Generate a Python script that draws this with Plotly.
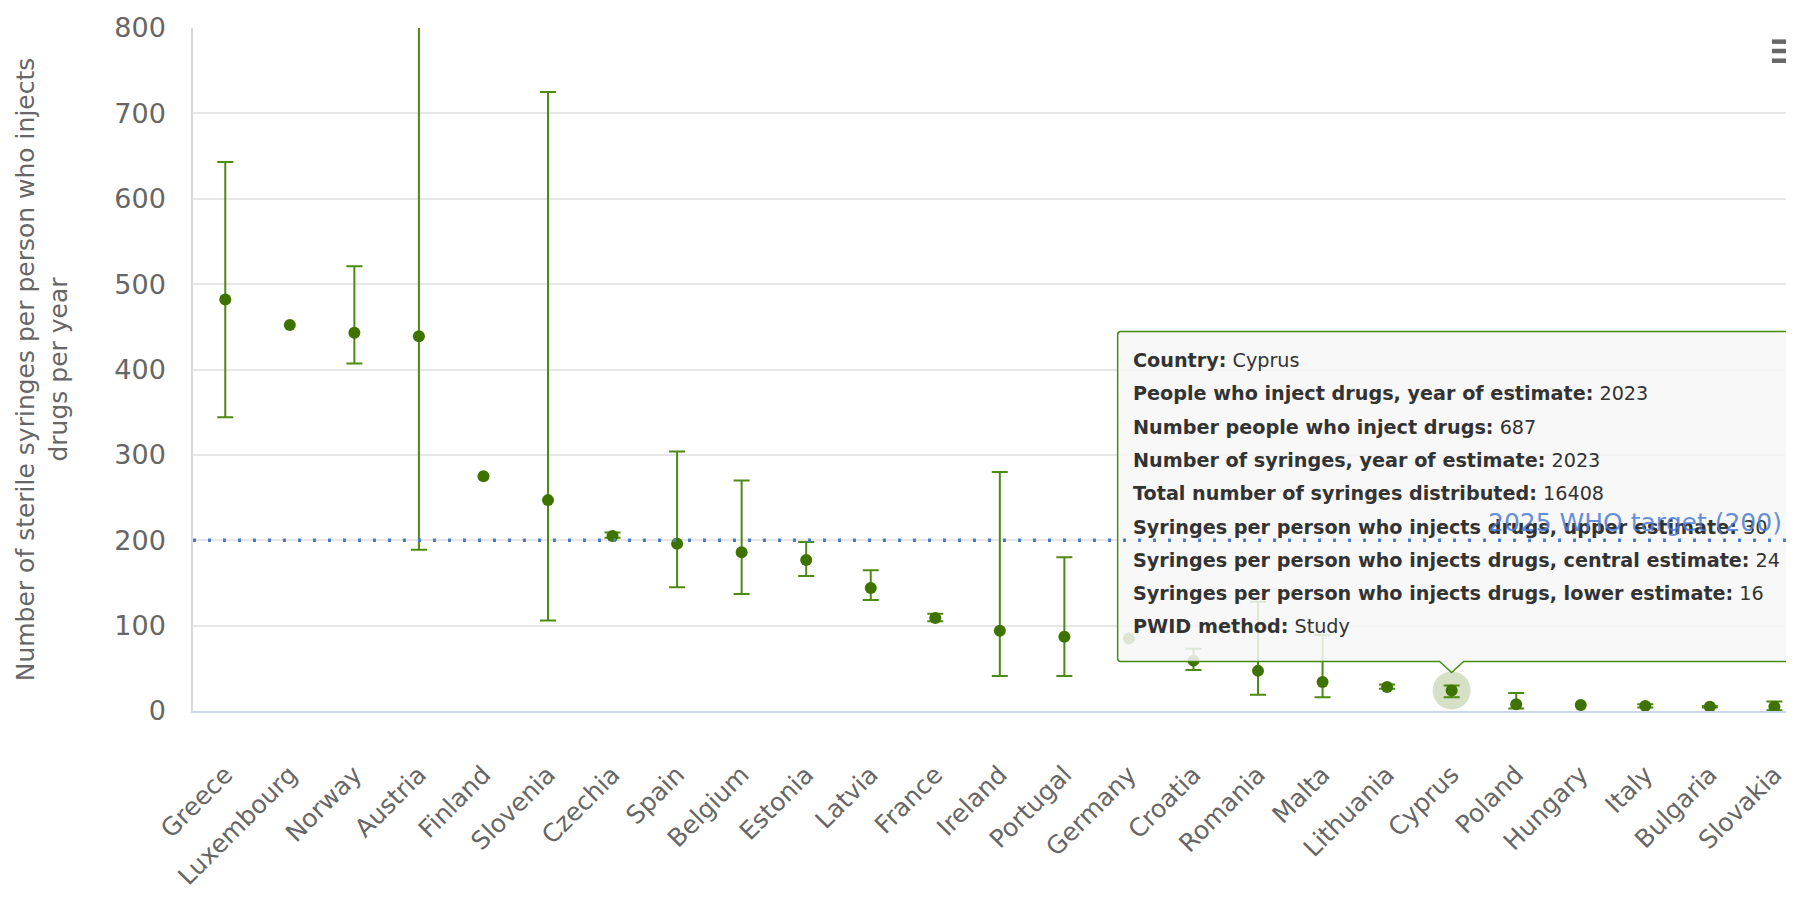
import plotly.graph_objects as go

countries = ["Greece", "Luxembourg", "Norway", "Austria", "Finland", "Slovenia", "Czechia",
             "Spain", "Belgium", "Estonia", "Latvia", "France", "Ireland", "Portugal",
             "Germany", "Croatia", "Romania", "Malta", "Lithuania", "Cyprus", "Poland",
             "Hungary", "Italy", "Bulgaria", "Slovakia"]
central = [482, 452, 443, 439, 275, 247, 205, 196, 186, 177, 144, 109, 94, 87,
           85, 59, 47, 34, 28, 24, 8, 7, 6, 5, 5]
upper = [643, None, 521, 900, None, 725, 209, 304, 270, 198, 165, 114, 280, 180,
         None, 73, 128, 89, 31, 30, 21, None, 8, 6, 11]
lower = [344, None, 407, 189, None, 106, 203, 145, 137, 158, 130, 105, 41, 41,
         None, 48, 19, 16, 26, 16, 3, None, 4, 4, 1]
who_target = 200
who_label = "2025 WHO target (200)"
hovered = "Cyprus"
tooltip_lines = [
    "<b>Country:</b> Cyprus",
    "<b>People who inject drugs, year of estimate:</b> 2023",
    "<b>Number people who inject drugs:</b> 687",
    "<b>Number of syringes, year of estimate:</b> 2023",
    "<b>Total number of syringes distributed:</b> 16408",
    "<b>Syringes per person who injects drugs, upper estimate:</b> 30",
    "<b>Syringes per person who injects drugs, central estimate:</b> 24",
    "<b>Syringes per person who injects drugs, lower estimate:</b> 16",
    "<b>PWID method:</b> Study",
]
y_title = "Number of sterile syringes per person who injects<br>drugs per year"

FONT = "DejaVu Sans"
PT = "#3f7300"
BAR = "#4d8a12"

fig = go.Figure()

hi = countries.index(hovered)
fig.add_trace(go.Scatter(x=[hovered], y=[central[hi]], mode="markers",
                         marker=dict(size=38, color="rgba(63,115,0,0.22)"),
                         hoverinfo="skip", showlegend=False))

with_bars = [i for i in range(len(countries)) if upper[i] is not None]
no_bars = [i for i in range(len(countries)) if upper[i] is None]

fig.add_trace(go.Scatter(
    x=[countries[i] for i in with_bars],
    y=[central[i] for i in with_bars],
    mode="markers",
    marker=dict(size=12, color=PT),
    error_y=dict(type="data", symmetric=False,
                 array=[upper[i] - central[i] for i in with_bars],
                 arrayminus=[central[i] - lower[i] for i in with_bars],
                 color=BAR, thickness=2, width=8),
    showlegend=False))
fig.add_trace(go.Scatter(
    x=[countries[i] for i in no_bars],
    y=[central[i] for i in no_bars],
    mode="markers", marker=dict(size=12, color=PT), showlegend=False))

# tooltip callout (pixel offsets around the hovered point)
L, R, T, B, tip, hw = -334, 339, 359, 29, 18, 12
path = (f"M{L+3},{T} L{R-3},{T} Q{R},{T} {R},{T-3} L{R},{B+3} Q{R},{B} {R-3},{B} "
        f"L{hw},{B} L0,{tip} L{-hw},{B} L{L+3},{B} Q{L},{B} {L},{B+3} L{L},{T-3} Q{L},{T} {L+3},{T} Z")
shapes = [dict(type="path", xref="x", yref="y", xsizemode="pixel", ysizemode="pixel",
               xanchor=hovered, yanchor=central[hi], path=path,
               fillcolor="rgba(247,247,247,0.86)", line=dict(color="#4a8a10", width=1.5),
               layer="above"),
          dict(type="line", xref="paper", x0=0, x1=1, yref="y", y0=who_target, y1=who_target,
               line=dict(color="#4a7bd4", width=3.5, dash="3px,12px"), layer="above")]
for yp in [0.98, 0.9663, 0.9521]:
    shapes.append(dict(type="line", xref="paper", yref="paper", x0=0.9912, x1=1.0, y0=yp, y1=yp,
                       line=dict(color="#666666", width=4.5)))

annotations = []
for k, line in enumerate(tooltip_lines):
    annotations.append(dict(x=hovered, y=central[hi], xref="x", yref="y", text=line,
                            showarrow=False, xanchor="left", yanchor="middle",
                            xshift=-321, yshift=330 - k * 33.3,
                            font=dict(family=FONT, size=19.2, color="#333333")))
annotations.append(dict(x=0.999, xref="paper", y=who_target, yref="y", text=who_label,
                        showarrow=False, xanchor="right", yanchor="bottom", yshift=1,
                        font=dict(family=FONT, size=25, color="rgba(74,123,212,0.85)")))

fig.update_layout(
    width=1778, height=886,
    margin=dict(l=185, r=0, t=20, b=183),
    plot_bgcolor="white", paper_bgcolor="white",
    font=dict(family=FONT, color="#666666"),
    shapes=shapes, annotations=annotations,
    showlegend=False,
)
fig.update_xaxes(type="category", categoryorder="array", categoryarray=countries,
                 range=[-0.5, 24.18], tickangle=-45, showgrid=False, automargin=False,
                 showline=True, linecolor="#ccd6eb", linewidth=2,
                 tickfont=dict(family=FONT, size=25, color="#666666"),
                 ticklabelstandoff=37, ticks="")
fig.update_yaxes(range=[0, 800], dtick=100, gridcolor="#e6e6e6", gridwidth=1.5,
                 zeroline=False, showline=True, linecolor="#d8d8d8", linewidth=1.5,
                 automargin=False,
                 tickfont=dict(family=FONT, size=27, color="#666666"),
                 ticklabelstandoff=20,
                 title=dict(text=y_title, standoff=40,
                            font=dict(family=FONT, size=25, color="#666666")))

fig.write_html("out.html")
